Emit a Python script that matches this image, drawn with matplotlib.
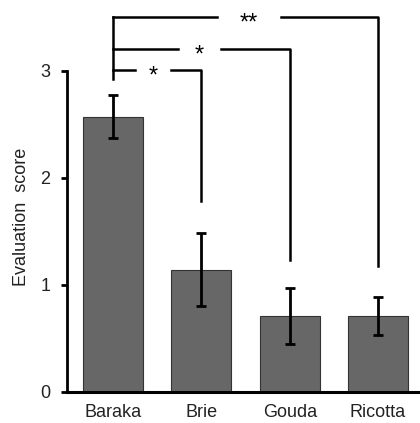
import numpy as np
import matplotlib.pyplot as plt

plt.rcParams['font.family'] = ['Liberation Sans', 'DejaVu Sans']

cheeses = ['Baraka', 'Brie', 'Gouda', 'Ricotta']
scores = [2.57, 1.14, 0.71, 0.71]
errors = [0.20, 0.34, 0.26, 0.18]

# significance brackets: (target bar, bracket height, drop-to level, label)
pairs = [1, 2, 3]
bracket_y = [3.01, 3.20, 3.50]
drop_y = [1.78, 1.23, 1.18]
stars = ['*', '*', '**']
left_bottom = 2.92

fig = plt.figure(figsize=(4.2, 4.23), dpi=100)
ax = fig.add_axes([0.16, 0.0733, 0.84, 0.9267])

x = np.arange(len(cheeses))
ax.bar(x, scores, width=0.68, color='#676767', edgecolor='#333333', linewidth=0.8, zorder=2)
ax.errorbar(x, scores, yerr=errors, fmt='none', ecolor='black', elinewidth=2,
            capsize=3.5, capthick=2, zorder=3)

ax.set_xlim(-0.52, 3.475)
ax.set_ylim(0, 3.66)
ax.set_yticks([0, 1, 2, 3])
ax.set_xticks(x)
ax.set_xticklabels(cheeses, fontsize=13, color='#222222')
ax.tick_params(axis='y', labelsize=13, labelcolor='#222222', length=4, width=2,
               direction='out', pad=8)
ax.tick_params(axis='x', length=0, pad=9)
ax.set_ylabel('Evaluation  score', fontsize=13, color='#222222')
ax.yaxis.set_label_coords(-0.105, 0.446)

for s in ['top', 'right']:
    ax.spines[s].set_visible(False)
ax.spines['left'].set_linewidth(2)
ax.spines['left'].set_bounds(0, 3)
ax.spines['bottom'].set_linewidth(2.2)

# brackets
lw = 1.8
ax.plot([0, 0], [left_bottom, bracket_y[-1]], color='black', lw=lw, clip_on=False)
gaps = [(0.25, 0.66), (0.74, 1.22), (1.18, 1.90)]
for p, by, dy, st, (g0, g1) in zip(pairs, bracket_y, drop_y, stars, gaps):
    ax.plot([0, g0], [by, by], color='black', lw=lw, clip_on=False)
    ax.plot([g1, p, p], [by, by, dy], color='black', lw=lw, clip_on=False)
    ax.text((g0 + g1) / 2, by - 0.06, st, ha='center', va='center', fontsize=17,
            clip_on=False)

fig.savefig('out.png', dpi=100)
